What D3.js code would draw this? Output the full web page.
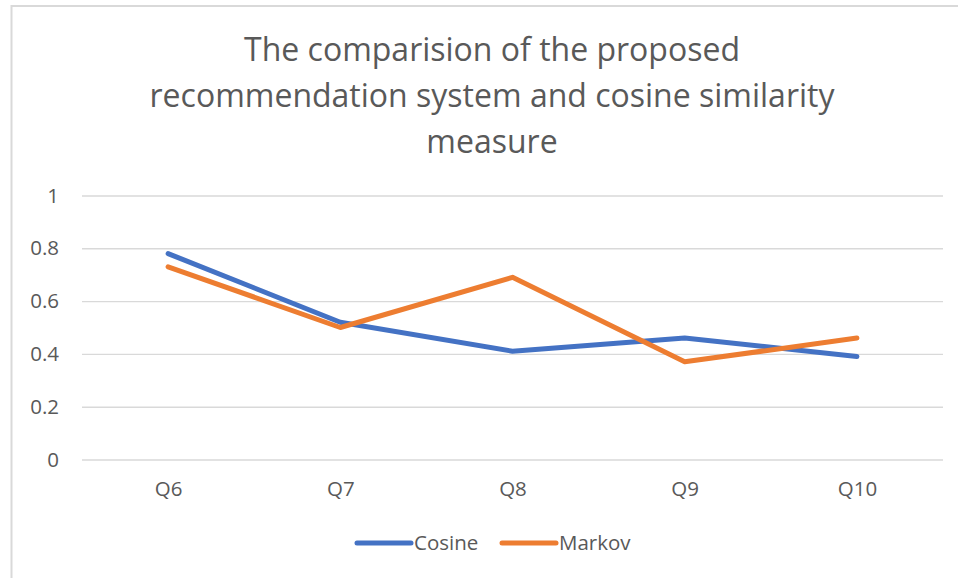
<!DOCTYPE html>
<html>
<head>
<meta charset="utf-8">
<script src="https://cdn.jsdelivr.net/npm/d3@7"></script>
<style>
  html, body { margin: 0; padding: 0; background: #fff; }
  svg { display: block; }
</style>
</head>
<body>
<div id="chart"></div>
<script>
// Data //
const categories = ["Q6", "Q7", "Q8", "Q9", "Q10"];
const cosine = [0.78, 0.52, 0.41, 0.46, 0.39];
const markov = [0.73, 0.50, 0.69, 0.37, 0.46];
const yTicks = [0, 0.2, 0.4, 0.6, 0.8, 1];
const titleLines = [
    "The comparision of the proposed",
    "recommendation system and cosine similarity",
    "measure"
];

const series = [
    { name: "Cosine", values: cosine, color: "#4472C4" },
    { name: "Markov", values: markov, color: "#ED7D31" }
];

/* Canvas */
const W = 958, H = 578;
const plot = { left: 82, right: 943, top: 195.5, bottom: 459.5 };
const font = "'Open Sans', sans-serif";
const textColor = "#595959";
const labelSize = "20.5px";

const svg = d3.select("#chart")
    .append("svg")
    .attr("width", W)
    .attr("height", H);

// chart area border (only left and top edges fall inside the picture)
svg.append("rect")
    .attr("x", 11.5)
    .attr("y", 6)
    .attr("width", W)
    .attr("height", H)
    .attr("fill", "#fff")
    .attr("stroke", "#D9D9D9")
    .attr("stroke-width", 2);

/* Scales */
const xScale = d3.scalePoint()
    .domain(categories)
    .range([plot.left, plot.right])
    .padding(0.5);

const yScale = d3.scaleLinear()
    .domain([0, 1])
    .range([plot.bottom, plot.top]);

/* Title */
svg.append("text")
    .attr("text-anchor", "middle")
    .attr("font-family", font)
    .attr("font-size", "32px")
    .attr("fill", textColor)
    .selectAll("tspan")
    .data(titleLines)
    .join("tspan")
    .attr("x", 492)
    .attr("y", (d, i) => 61 + i * 46)
    .text(d => d);

/* Gridlines + y axis */
const yAxis = d3.axisLeft(yScale)
    .tickValues(yTicks)
    .tickSize(-(plot.right - plot.left))
    .tickPadding(23)
    .tickFormat(d => d3.format("")(d));

const gy = svg.append("g")
    .attr("transform", `translate(${plot.left},0)`)
    .call(yAxis);

gy.select(".domain").remove();
gy.selectAll(".tick line")
    .attr("stroke", "#D9D9D9")
    .attr("stroke-width", 1.4);
gy.selectAll(".tick text")
    .attr("font-family", font)
    .attr("font-size", labelSize)
    .attr("fill", textColor);

/* X axis (labels only) */
const xAxis = d3.axisBottom(xScale)
    .tickSize(0)
    .tickPadding(22);

const gx = svg.append("g")
    .attr("transform", `translate(0,${plot.bottom})`)
    .call(xAxis);

gx.select(".domain").remove();
gx.selectAll(".tick text")
    .attr("font-family", font)
    .attr("font-size", labelSize)
    .attr("fill", textColor);

/* Lines */
const line = d3.line()
    .x((d, i) => xScale(categories[i]))
    .y(d => yScale(d));

svg.selectAll(".series")
    .data(series)
    .join("path")
    .attr("class", "series")
    .attr("d", d => line(d.values))
    .attr("fill", "none")
    .attr("stroke", d => d.color)
    .attr("stroke-width", 5)
    .attr("stroke-linecap", "round")
    .attr("stroke-linejoin", "round");

/* Legend */
const legendX = [357, 502];
const legend = svg.selectAll(".legend")
    .data(series)
    .join("g")
    .attr("class", "legend")
    .attr("transform", (d, i) => `translate(${legendX[i]},543)`);

legend.append("line")
    .attr("x1", 0).attr("x2", 54)
    .attr("y1", 0).attr("y2", 0)
    .attr("stroke", d => d.color)
    .attr("stroke-width", 5)
    .attr("stroke-linecap", "round");

legend.append("text")
    .attr("x", 57)
    .attr("y", 0)
    .attr("dy", "0.35em")
    .attr("font-family", font)
    .attr("font-size", labelSize)
    .attr("fill", textColor)
    .text(d => d.name);
</script>
</body>
</html>
